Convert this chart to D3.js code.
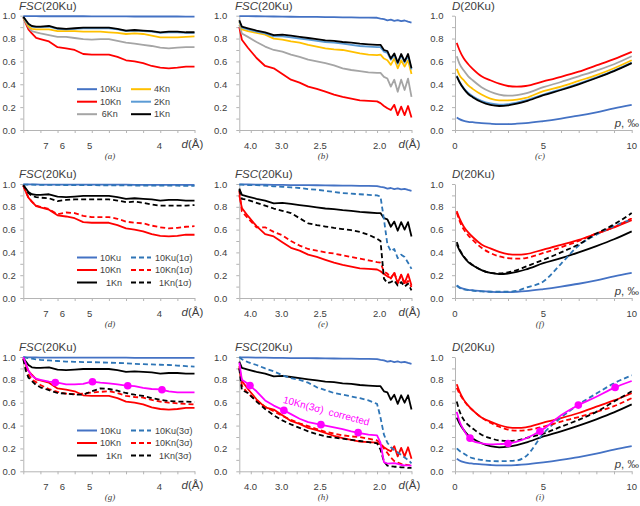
<!DOCTYPE html>
<html>
<head>
<meta charset="utf-8">
<script src="https://cdn.jsdelivr.net/npm/d3@7"></script>
<style>
body { margin: 0; background: #fff; }
text { font-family: "Liberation Sans", Arial, sans-serif; fill: #404040; }
.axis path, .axis line { stroke: #b4b4b4; }
.axis text { font-size: 9.5px; fill: #404040; font-family: "Liberation Sans", Arial, sans-serif; }
</style>
</head>
<body>
<script>
// x grids: shell position (0 = left edge of panel, 10 = right edge), p in per mille
var shellLo = [0,0.15,0.3,0.5,0.75,1,1.5,2,2.5,3,3.5,4,4.5,5,5.5,6,6.5,7,7.5,8,8.5,9,9.5,10];
var shellHi = [0,0.15,0.5,1,1.5,2,2.5,3,3.5,4,4.5,5,5.5,6,6.5,7,7.5,8,8.2,8.4,8.6,8.8,9,9.2,9.4,9.6,9.8,10];
var pGrid = [0.1,0.25,0.5,0.75,1,1.5,2,2.5,3,3.5,4,5,6,7,8,9,10];

// tick labels
var dTicksLo = ["7","6","5","4"], dTicksLoAt = [1.32,2.29,3.88,7.95];
var dTicksHi = ["4.0","3.0","2.5","2.0"], dTicksHiAt = [0.65,2.46,4.7,8.15];
var pTicks = ["0","5","10"], pTicksAt = [0,5,10];

// FSC, low resolution range (a, d, g)
var lo10Ku = [0.996,0.996,0.996,0.996,0.996,0.995,0.995,0.995,0.995,0.995,0.995,0.994,0.994,0.994,0.994,0.994,0.993,0.993,0.993,0.993,0.993,0.993,0.992,0.992];
var lo10Kn = [0.985,0.93,0.88,0.845,0.805,0.795,0.775,0.725,0.715,0.70,0.665,0.66,0.66,0.66,0.64,0.61,0.60,0.585,0.56,0.545,0.54,0.545,0.555,0.555];
var lo6Kn = [0.985,0.94,0.9,0.865,0.855,0.845,0.83,0.815,0.815,0.805,0.795,0.79,0.795,0.795,0.78,0.765,0.755,0.745,0.735,0.72,0.715,0.72,0.725,0.725];
var lo4Kn = [0.985,0.95,0.91,0.885,0.88,0.88,0.88,0.865,0.865,0.865,0.86,0.86,0.86,0.855,0.85,0.84,0.845,0.84,0.825,0.81,0.81,0.81,0.815,0.82];
var lo2Kn = [0.988,0.955,0.925,0.905,0.9,0.9,0.905,0.885,0.88,0.885,0.89,0.89,0.89,0.89,0.88,0.865,0.87,0.865,0.86,0.85,0.855,0.855,0.85,0.85];
var lo1Kn = [0.99,0.96,0.93,0.91,0.905,0.905,0.91,0.89,0.885,0.89,0.895,0.895,0.895,0.895,0.885,0.87,0.875,0.87,0.865,0.855,0.86,0.86,0.855,0.855];
var lo10Ku1s = [0.995,0.995,0.994,0.994,0.993,0.993,0.992,0.992,0.991,0.991,0.99,0.99,0.989,0.989,0.988,0.988,0.987,0.987,0.986,0.986,0.985,0.985,0.984,0.984];
var lo10Kn1s = [0.985,0.93,0.88,0.845,0.81,0.8,0.78,0.735,0.75,0.745,0.72,0.71,0.71,0.71,0.695,0.67,0.66,0.655,0.635,0.62,0.61,0.615,0.625,0.63];
var lo1Kn1s = [0.99,0.955,0.92,0.895,0.885,0.88,0.875,0.85,0.86,0.865,0.865,0.865,0.865,0.865,0.855,0.84,0.845,0.835,0.82,0.81,0.81,0.81,0.81,0.815];
var lo10Ku3s = [1.0,0.995,0.99,0.985,0.98,0.975,0.97,0.965,0.96,0.958,0.955,0.955,0.953,0.95,0.948,0.945,0.94,0.937,0.935,0.932,0.93,0.925,0.92,0.915];
var lo10Kn3s = [0.985,0.92,0.85,0.80,0.78,0.755,0.72,0.695,0.68,0.675,0.68,0.69,0.695,0.70,0.685,0.66,0.65,0.645,0.625,0.61,0.60,0.595,0.59,0.585];
var lo1Kn3s = [0.98,0.88,0.82,0.79,0.755,0.735,0.71,0.685,0.68,0.672,0.67,0.70,0.725,0.72,0.705,0.685,0.67,0.66,0.64,0.625,0.615,0.61,0.61,0.605];
var loCorr = [1.0,0.94,0.88,0.835,0.81,0.80,0.785,0.775,0.76,0.76,0.765,0.785,0.775,0.77,0.76,0.75,0.745,0.73,0.72,0.717,0.70,0.69,0.69,0.69];
var loCorrDotS = [1.87,4.04,6.1,8.1], loCorrDotV = [0.777,0.783,0.749,0.713];

// FSC, high resolution range (b, e, h)
var hi10Ku = [0.997,0.997,0.996,0.995,0.994,0.993,0.992,0.991,0.99,0.99,0.989,0.988,0.987,0.986,0.985,0.984,0.983,0.982,0.975,0.97,0.96,0.965,0.955,0.962,0.952,0.958,0.948,0.94];
var hi10Kn = [0.90,0.79,0.72,0.63,0.56,0.54,0.49,0.44,0.415,0.38,0.36,0.335,0.31,0.29,0.275,0.26,0.255,0.25,0.235,0.21,0.19,0.175,0.22,0.13,0.205,0.13,0.21,0.11];
var hi6Kn = [0.92,0.845,0.815,0.77,0.73,0.70,0.685,0.66,0.64,0.615,0.60,0.585,0.565,0.54,0.525,0.515,0.505,0.50,0.50,0.465,0.45,0.38,0.44,0.335,0.44,0.35,0.45,0.29];
var hi4Kn = [0.95,0.88,0.865,0.85,0.835,0.80,0.79,0.775,0.765,0.745,0.73,0.715,0.705,0.70,0.685,0.67,0.66,0.655,0.66,0.625,0.61,0.57,0.625,0.54,0.61,0.555,0.61,0.49];
var hi2Kn = [0.95,0.895,0.88,0.86,0.845,0.82,0.82,0.81,0.80,0.79,0.78,0.77,0.765,0.755,0.745,0.735,0.73,0.725,0.725,0.685,0.675,0.615,0.655,0.58,0.655,0.59,0.65,0.53];
var hi1Kn = [0.96,0.905,0.89,0.87,0.855,0.83,0.835,0.825,0.815,0.805,0.795,0.785,0.78,0.77,0.765,0.755,0.75,0.745,0.745,0.70,0.69,0.625,0.67,0.59,0.665,0.60,0.665,0.54];
var hi10Ku1s = [0.995,0.995,0.99,0.99,0.985,0.98,0.975,0.97,0.965,0.955,0.95,0.94,0.93,0.92,0.915,0.91,0.905,0.90,0.89,0.69,0.47,0.41,0.43,0.35,0.38,0.36,0.31,0.255];
var hi10Kn1s = [0.94,0.76,0.70,0.62,0.62,0.58,0.55,0.50,0.46,0.43,0.415,0.40,0.39,0.375,0.36,0.345,0.33,0.315,0.31,0.23,0.215,0.17,0.225,0.13,0.20,0.115,0.15,0.095];
var hi1Kn1s = [0.95,0.87,0.86,0.835,0.81,0.785,0.765,0.745,0.70,0.655,0.64,0.627,0.615,0.605,0.595,0.58,0.555,0.52,0.50,0.17,0.13,0.14,0.155,0.11,0.14,0.10,0.125,0.067];
var hi10Ku3s = [1.0,0.98,0.955,0.93,0.90,0.875,0.84,0.815,0.80,0.775,0.735,0.71,0.685,0.67,0.655,0.64,0.62,0.59,0.47,0.32,0.25,0.21,0.185,0.165,0.145,0.12,0.10,0.07];
var hi10Kn3s = [0.92,0.75,0.68,0.62,0.565,0.525,0.485,0.45,0.42,0.395,0.37,0.345,0.33,0.315,0.305,0.30,0.285,0.27,0.25,0.20,0.16,0.12,0.09,0.075,0.065,0.06,0.055,0.05];
var hi1Kn3s = [0.90,0.71,0.685,0.61,0.545,0.49,0.445,0.41,0.38,0.35,0.325,0.305,0.295,0.285,0.275,0.265,0.255,0.245,0.19,0.085,0.05,0.045,0.04,0.04,0.035,0.035,0.03,0.03];
var hiCorr = [0.95,0.80,0.765,0.70,0.62,0.575,0.54,0.50,0.46,0.43,0.415,0.40,0.385,0.37,0.35,0.335,0.32,0.315,0.25,0.08,0.068,0.07,0.072,0.065,0.055,0.052,0.052,0.05];
var hiCorrDotS = [0.62,2.59,4.74,6.9], hiCorrDotV = [0.75,0.533,0.408,0.338];

// D(20Ku) against p (c, f, i)
var d10Ku = [0.11,0.095,0.08,0.072,0.068,0.06,0.055,0.052,0.052,0.055,0.06,0.078,0.10,0.125,0.155,0.19,0.22];
var d10Kn = [0.762,0.70,0.625,0.575,0.535,0.47,0.435,0.405,0.385,0.38,0.385,0.425,0.465,0.51,0.565,0.62,0.683];
var d6Kn = [0.645,0.58,0.52,0.47,0.435,0.375,0.335,0.31,0.30,0.305,0.32,0.375,0.42,0.47,0.52,0.575,0.645];
var d4Kn = [0.535,0.48,0.435,0.39,0.36,0.31,0.275,0.26,0.26,0.265,0.28,0.34,0.38,0.43,0.48,0.54,0.61];
var d2Kn = [0.475,0.425,0.365,0.325,0.295,0.255,0.232,0.222,0.227,0.24,0.26,0.31,0.355,0.405,0.46,0.52,0.59];
var d1Kn = [0.47,0.42,0.36,0.315,0.287,0.245,0.22,0.21,0.215,0.23,0.25,0.305,0.35,0.40,0.455,0.515,0.585];
var d10Ku1s = [0.11,0.09,0.075,0.07,0.065,0.058,0.055,0.055,0.055,0.062,0.09,0.145,0.30,0.46,0.555,0.63,0.69];
var d10Kn1s = [0.75,0.68,0.60,0.55,0.51,0.44,0.395,0.365,0.35,0.345,0.35,0.395,0.445,0.50,0.565,0.62,0.70];
var d1Kn1s = [0.49,0.43,0.365,0.32,0.29,0.245,0.22,0.215,0.225,0.245,0.275,0.335,0.40,0.47,0.565,0.645,0.745];
var d10Ku3s = [0.20,0.18,0.155,0.13,0.115,0.10,0.09,0.088,0.09,0.095,0.13,0.33,0.47,0.585,0.68,0.77,0.84];
var d10Kn3s = [0.73,0.68,0.62,0.57,0.535,0.47,0.425,0.39,0.365,0.355,0.36,0.39,0.435,0.475,0.52,0.57,0.64];
var d1Kn3s = [0.61,0.53,0.45,0.405,0.375,0.32,0.29,0.27,0.265,0.27,0.29,0.33,0.39,0.45,0.52,0.61,0.70];
var dCorr = [0.52,0.44,0.36,0.30,0.265,0.245,0.235,0.238,0.243,0.26,0.287,0.37,0.49,0.58,0.652,0.73,0.79];
var dCorrDotP = [0.85,3.0,4.81,6.98,9.06], dCorrDotV = [0.29,0.243,0.35,0.579,0.734];

var C = { ku: "#4472c4", kuD: "#2e75b6", ku2: "#5b9bd5", red: "#ff0000", gray: "#a5a5a5",
          gold: "#ffc000", black: "#000000", mag: "#ff00ff" };

var svg = d3.select("body").append("svg").attr("width", 640).attr("height", 506);

// panel grid
var cols = [[23.3, 194.5], [239.3, 411.5], [455, 631.7]];
var rows = [[15.7, 130], [184, 298], [357, 471.3]];
var labelPad = [4.6, 9, 8.5];
var titleX = [19, 235, 452];
var capX = [110, 323, 540];

function S(v, c, dash) { return { v: v, c: c, dash: dash }; }

var legA = [["10Ku", C.ku, 0, 0, 100], ["10Kn", C.red, 0, 0, 100], ["6Kn", C.gray, 0, 0, 101.7],
            ["4Kn", C.gold, 0, 1, 154], ["2Kn", C.ku2, 0, 1, 154], ["1Kn", C.black, 0, 1, 154]];
function legSig(s) {
  return [["10Ku", C.ku, 0, 0, 100], ["10Kn", C.red, 0, 0, 100], ["1Kn", C.black, 0, 0, 106],
          ["10Ku(" + s + ")", C.kuD, 1, 1, 155], ["10Kn(" + s + ")", C.red, 1, 1, 155], ["1Kn(" + s + ")", C.black, 1, 1, 159]];
}

var panels = [
  { cap: "a", kind: "lo", title: "FSC", legend: legA,
    series: [S(lo10Ku, C.ku), S(lo10Kn, C.red), S(lo6Kn, C.gray), S(lo4Kn, C.gold), S(lo2Kn, C.ku2), S(lo1Kn, C.black)] },
  { cap: "b", kind: "hi", title: "FSC",
    series: [S(hi10Ku, C.ku), S(hi10Kn, C.red), S(hi6Kn, C.gray), S(hi4Kn, C.gold), S(hi2Kn, C.ku2), S(hi1Kn, C.black)] },
  { cap: "c", kind: "p", title: "D",
    series: [S(d10Ku, C.ku), S(d10Kn, C.red), S(d6Kn, C.gray), S(d4Kn, C.gold), S(d2Kn, C.ku2), S(d1Kn, C.black)] },
  { cap: "d", kind: "lo", title: "FSC", legend: legSig("1σ"),
    series: [S(lo10Ku, C.ku), S(lo10Kn, C.red), S(lo1Kn, C.black), S(lo10Ku1s, C.kuD, 1), S(lo10Kn1s, C.red, 1), S(lo1Kn1s, C.black, 1)] },
  { cap: "e", kind: "hi", title: "FSC",
    series: [S(hi10Ku, C.ku), S(hi10Kn, C.red), S(hi1Kn, C.black), S(hi10Ku1s, C.kuD, 1), S(hi10Kn1s, C.red, 1), S(hi1Kn1s, C.black, 1)] },
  { cap: "f", kind: "p", title: "D",
    series: [S(d10Ku, C.ku), S(d10Kn, C.red), S(d1Kn, C.black), S(d10Ku1s, C.kuD, 1), S(d10Kn1s, C.red, 1), S(d1Kn1s, C.black, 1)] },
  { cap: "g", kind: "lo", title: "FSC", legend: legSig("3σ"),
    series: [S(lo10Ku, C.ku), S(lo10Kn, C.red), S(lo1Kn, C.black), S(lo10Ku3s, C.kuD, 1), S(lo10Kn3s, C.red, 1), S(lo1Kn3s, C.black, 1), S(loCorr, C.mag)],
    dots: [loCorrDotS, loCorrDotV] },
  { cap: "h", kind: "hi", title: "FSC",
    series: [S(hi10Ku, C.ku), S(hi10Kn, C.red), S(hi1Kn, C.black), S(hi10Ku3s, C.kuD, 1), S(hi10Kn3s, C.red, 1), S(hi1Kn3s, C.black, 1), S(hiCorr, C.mag)],
    dots: [hiCorrDotS, hiCorrDotV], note: "10Kn(3σ)  corrected" },
  { cap: "i", kind: "p", title: "D",
    series: [S(d10Ku, C.ku), S(d10Kn, C.red), S(d1Kn, C.black), S(d10Ku3s, C.kuD, 1), S(d10Kn3s, C.red, 1), S(d1Kn3s, C.black, 1), S(dCorr, C.mag)],
    dots: [dCorrDotP, dCorrDotV] }
];

panels.forEach(function(cfg, i) {
  var col = i % 3, row = Math.floor(i / 3);
  var x0 = cols[col][0], x1 = cols[col][1], top = rows[row][0], bot = rows[row][1];
  var x = d3.scaleLinear().domain([0, 10]).range([x0, x1]);
  var y = d3.scaleLinear().domain([0, 1]).range([bot, top]);
  var grid = cfg.kind == "lo" ? shellLo : cfg.kind == "hi" ? shellHi : pGrid;
  var g = svg.append("g");

  // axes
  g.append("g").attr("class", "axis").attr("transform", "translate(" + x0 + ",0)")
    .call(d3.axisLeft(y).tickValues(d3.range(0, 11).map(function(d) { return d / 10; }))
      .tickSize(3).tickSizeOuter(0).tickPadding(labelPad[col])
      .tickFormat(function(d) { return Math.round(d * 10) % 2 ? "" : d.toFixed(1); }));
  var nx = cfg.kind == "hi" ? 15 : 10;
  g.append("g").attr("class", "axis").attr("transform", "translate(0," + bot + ")")
    .call(d3.axisBottom(x).tickValues(d3.range(0, nx + 1).map(function(d) { return d * 10 / nx; }))
      .tickSize(3).tickSizeOuter(0).tickFormat(""));

  var tl = cfg.kind == "lo" ? dTicksLo : cfg.kind == "hi" ? dTicksHi : pTicks;
  var ta = cfg.kind == "lo" ? dTicksLoAt : cfg.kind == "hi" ? dTicksHiAt : pTicksAt;
  g.selectAll(".xl").data(tl).enter().append("text")
    .attr("x", function(d, k) { return x(ta[k]); }).attr("y", bot + 19)
    .attr("text-anchor", "middle").style("font-size", "9.5px").text(function(d) { return d; });

  // title
  var t = g.append("text").attr("x", titleX[col]).attr("y", top - 6).style("font-size", "11.5px");
  t.append("tspan").style("font-style", "italic").text(cfg.title);
  t.append("tspan").text("(20Ku)");

  // axis name at the right
  if (cfg.kind == "p") {
    var pl = g.append("text").attr("x", 639).attr("y", bot - 3.5).attr("text-anchor", "end").style("font-size", "11.5px");
    pl.append("tspan").style("font-style", "italic").text("p");
    pl.append("tspan").text(", ‰");
  } else {
    var dl = g.append("text").attr("x", x1 - 13).attr("y", bot + 18).style("font-size", "11.5px");
    dl.append("tspan").style("font-style", "italic").text("d");
    dl.append("tspan").text("(Å)");
  }

  // caption
  g.append("text").attr("x", capX[col]).attr("y", bot + 29).attr("text-anchor", "middle")
    .style("font-family", "'Liberation Serif', serif").style("font-style", "italic").style("font-size", "9px")
    .text("(" + cfg.cap + ")");

  // series
  var line = d3.line().x(function(d, k) { return x(grid[k]); }).y(function(d) { return y(d); })
    .curve(cfg.kind == "p" ? d3.curveMonotoneX : d3.curveLinear);
  cfg.series.forEach(function(s) {
    g.append("path").attr("d", line(s.v)).attr("fill", "none").attr("stroke", s.c)
      .attr("stroke-width", 1.8).attr("stroke-linejoin", "round")
      .attr("stroke-dasharray", s.dash ? "5,3" : null);
  });

  if (cfg.dots) {
    g.selectAll(".dot").data(cfg.dots[0]).enter().append("circle")
      .attr("cx", function(d) { return x(d); })
      .attr("cy", function(d, k) { return y(cfg.dots[1][k]); })
      .attr("r", 3.8).attr("fill", C.mag);
  }

  if (cfg.note) {
    g.append("text").attr("transform", "translate(" + x(5.0) + "," + y(0.5) + ") rotate(15)")
      .attr("text-anchor", "middle").style("font-size", "10px").style("fill", C.mag)
      .style("white-space", "pre").text(cfg.note);
  }

  // legend
  if (cfg.legend) {
    var ly = [top + 73.5, top + 86, top + 98.5];
    var lx = [[77, 97], [131, 151]];
    var rowIdx = [0, 1, 2, 0, 1, 2];
    cfg.legend.forEach(function(e, k) {
      var yy = ly[rowIdx[k]];
      g.append("line").attr("x1", lx[e[3]][0]).attr("x2", lx[e[3]][1]).attr("y1", yy).attr("y2", yy)
        .attr("stroke", e[1]).attr("stroke-width", 2).attr("stroke-dasharray", e[2] ? "5,3" : null);
      g.append("text").attr("x", e[4]).attr("y", yy + 3.2).style("font-size", "9px").text(e[0]);
    });
  }
});
</script>
</body>
</html>
